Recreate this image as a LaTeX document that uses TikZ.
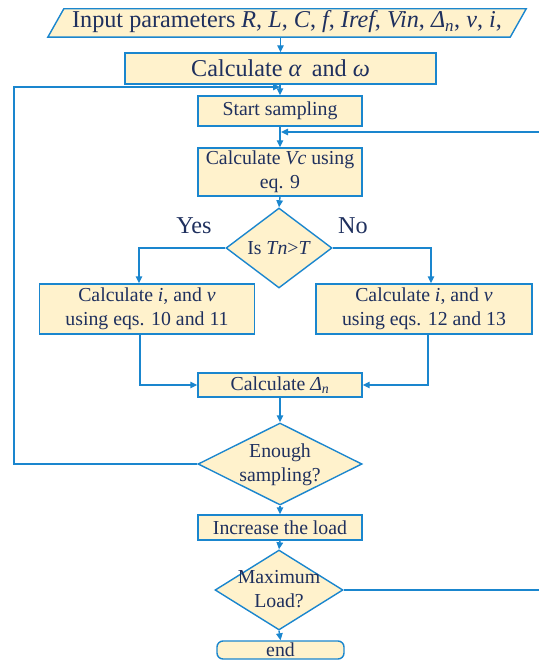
\documentclass[tikz,border=0pt]{standalone}
\usepackage{fontspec}
\setmainfont{Liberation Serif}
\usetikzlibrary{arrows.meta,shapes.geometric}
\definecolor{bord}{RGB}{26,134,206}
\definecolor{fillc}{RGB}{255,242,204}
\definecolor{txt}{RGB}{31,48,94}
\newcommand{\fsmall}{\fontsize{19.8}{24}\selectfont}
\newcommand{\fbig}{\fontsize{24.2}{28}\selectfont}
\begin{document}
\begin{tikzpicture}[x=1pt,y=-1pt,
  box/.style={draw=bord, fill=fillc, line width=1.4pt, inner sep=0pt, text=txt, font=\fsmall, align=center},
  dia/.style={draw=bord, fill=fillc, line width=1.4pt, inner sep=0pt, shape=diamond},
  lbl/.style={text=txt, font=\fsmall, align=center, inner sep=0pt},
  arr/.style={-{Triangle[length=7pt,width=6.5pt]}, draw=bord, line width=1.4pt},
  ln/.style={draw=bord, line width=1.4pt}]
\useasboundingbox (0,0) rectangle (538,660);
% input parallelogram
\node[inner sep=0pt, minimum width=462pt, minimum height=28pt] (input) at (287,23) {};
\fill[fillc] ([xshift=-8pt]input.south west) -- ([xshift=8pt]input.north west) -- ([xshift=8pt]input.north east) -- ([xshift=-8pt]input.south east) -- cycle;
\draw[ln] ([xshift=-8pt]input.south west) -- ([xshift=8pt]input.north west) -- ([xshift=8pt]input.north east) -- ([xshift=-8pt]input.south east) -- cycle;
\node[lbl, font=\fbig] (inputt) at (287,22) {Input parameters \textit{R}, \textit{L}, \textit{C}, \textit{f}, \textit{Iref}, \textit{Vin}, \textit{Δ\textsubscript{n}}, \textit{v}, \textit{i},};
\node[box, font=\fbig, minimum width=311pt, minimum height=31pt] (calc) at (280.5,68.5) {Calculate \textit{α}\, and \textit{ω}};
\node[box, minimum width=164pt, minimum height=30pt] (start) at (280,111) {Start sampling};
\node[box, minimum width=164pt, minimum height=48pt] (vc) at (280,172) {Calculate \textit{Vc} using\\eq. 9};
\node[dia, minimum width=106pt, minimum height=80pt] (tn) at (279,248) {};
\node[lbl] (tnt) at (279,248) {Is \textit{Tn}>\textit{T}};
\node[lbl, font=\fbig] (yes) at (194,226) {Yes};
\node[lbl, font=\fbig] (no) at (353,226) {No};
\node[box, minimum width=215pt, minimum height=50pt] (left) at (147,309) {Calculate \textit{i}, and \textit{v}\\using eqs. 10 and 11};
\node[box, minimum width=216pt, minimum height=50pt] (right) at (424,309) {Calculate \textit{i}, and \textit{v}\\using eqs. 12 and 13};
\node[box, minimum width=164pt, minimum height=24pt] (delta) at (280,385) {Calculate \textit{Δ\textsubscript{n}}};
\node[dia, minimum width=164pt, minimum height=82pt] (enough) at (280,464) {};
\node[lbl] (enought) at (280,465) {Enough\\sampling?};
\node[box, minimum width=164pt, minimum height=25pt] (inc) at (280,527.5) {Increase the load};
\node[dia, minimum width=128pt, minimum height=80pt] (maxl) at (279,590) {};
\node[lbl] (maxlt) at (279,589) {Maximum\\Load?};
\node[box, rounded corners=6pt, minimum width=127pt, minimum height=18pt] (end) at (280.5,650) {end};
% coordinates
\coordinate (ltop) at (14,87);
\coordinate (j1) at (280,87);
\coordinate (rtop) at (548,132);
\coordinate (j2) at (281,132);
\coordinate (lx) at (139,0);
\coordinate (rx) at (431,0);
\coordinate (lbx) at (140,0);
\coordinate (rbx) at (428,0);
% connectors
\draw[arr] (calc.north |- input.south) -- (calc.north);
\draw[arr] (calc.south -| start.north) -- (start.north);
\draw[arr] (enough.west) -| (ltop) -- (j1);
\draw[arr] (start.south) -- (vc.north);
\draw[arr] (maxl.east) -| (rtop) -- (j2);
\draw[arr] (vc.south) -- (tn.north);
\draw[arr] (tn.west) -| (lx |- left.north);
\draw[arr] (tn.east) -| (rx |- right.north);
\draw[arr] (lbx |- left.south) |- (delta.west);
\draw[arr] (rbx |- right.south) |- (delta.east);
\draw[arr] (delta.south) -- (enough.north);
\draw[arr] (enough.south) -- (inc.north);
\draw[arr] (inc.south) -- (maxl.north);
\draw[arr] (maxl.south) -- (end.north);
\end{tikzpicture}
\end{document}
